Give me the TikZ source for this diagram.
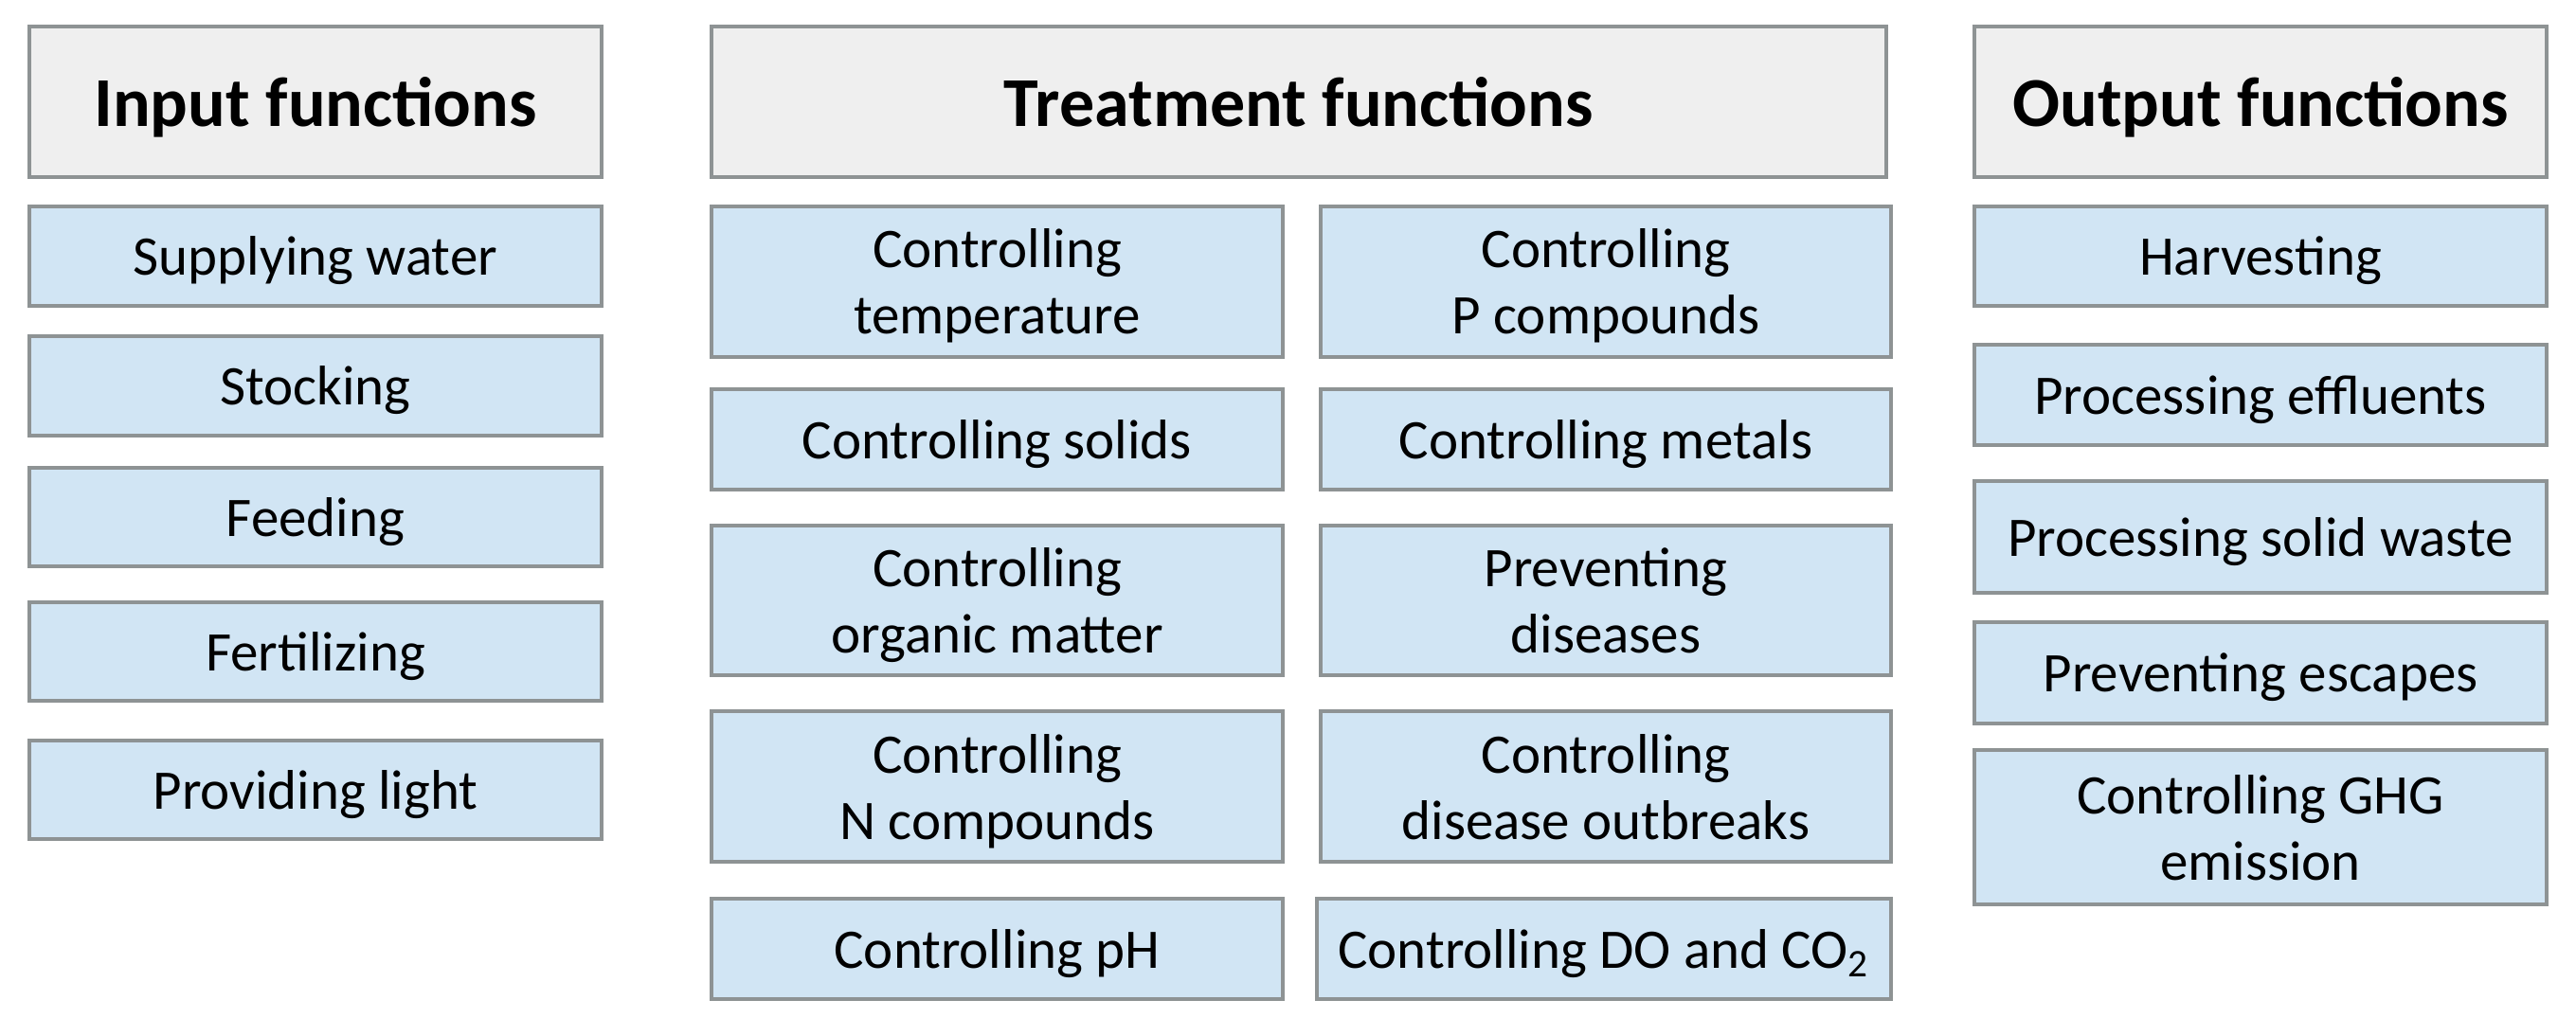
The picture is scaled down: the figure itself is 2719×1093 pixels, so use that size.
\documentclass[tikz,border=0pt]{standalone}
\usepackage{fontspec}
\setmainfont{Carlito}
\definecolor{boxblue}{HTML}{D1E5F4}
\definecolor{headgray}{HTML}{EFEFEF}
\definecolor{bordergray}{HTML}{8E9394}
\newcommand\mybox[7]{\node[#6, minimum width={(#4-#2)*0.3pt}, minimum height={(#5-#3)*0.3pt}] (#1) at ({(#2+#4)/2},{(#3+#5)/2}) {#7};}
\tikzset{
  basebox/.style={draw=bordergray, line width=1pt, inner sep=0pt, outer sep=0pt, align=center, text depth=0pt, anchor=center},
  funcbox/.style={basebox, fill=boxblue, font=\fontsize{17.7}{21}\selectfont},
  headbox/.style={basebox, fill=headgray, font=\fontsize{22.2}{26}\selectfont\bfseries},
}
\begin{document}
\begin{tikzpicture}[x=0.3pt,y=-0.3pt]
\useasboundingbox (0,0) rectangle (2719,1093);
% headers
\mybox{hin}{31}{28}{635}{187}{headbox}{Input functions}
\mybox{htr}{751}{28}{1991}{187}{headbox}{Treatment functions}
\mybox{hout}{2084}{28}{2688}{187}{headbox}{Output functions}
% input column
\mybox{in1}{31}{218}{635}{323}{funcbox}{Supplying water}
\mybox{in2}{31}{355}{635}{460}{funcbox}{Stocking}
\mybox{in3}{31}{494}{635}{598}{funcbox}{Feeding}
\mybox{in4}{31}{636}{635}{740}{funcbox}{Fertilizing}
\mybox{in5}{31}{782}{635}{886}{funcbox}{Providing light}
% treatment left
\mybox{tl1}{751}{218}{1354}{377}{funcbox}{Controlling\\temperature}
\mybox{tl2}{751}{411}{1354}{517}{funcbox}{Controlling solids}
\mybox{tl3}{751}{555}{1354}{713}{funcbox}{Controlling\\organic matter}
\mybox{tl4}{751}{751}{1354}{910}{funcbox}{Controlling\\N compounds}
\mybox{tl5}{751}{949}{1354}{1055}{funcbox}{Controlling pH}
% treatment right
\mybox{tr1}{1394}{218}{1996}{377}{funcbox}{Controlling\\P compounds}
\mybox{tr2}{1394}{411}{1996}{517}{funcbox}{Controlling metals}
\mybox{tr3}{1394}{555}{1996}{713}{funcbox}{Preventing\\diseases}
\mybox{tr4}{1394}{751}{1996}{910}{funcbox}{Controlling\\disease outbreaks}
\mybox{tr5}{1390}{949}{1996}{1055}{funcbox}{Controlling DO and CO\textsubscript{2}}
% output column
\mybox{out1}{2084}{218}{2688}{323}{funcbox}{Harvesting}
\mybox{out2}{2084}{364}{2688}{470}{funcbox}{Processing effluents}
\mybox{out3}{2084}{508}{2688}{626}{funcbox}{Processing solid waste}
\mybox{out4}{2084}{657}{2688}{764}{funcbox}{Preventing escapes}
\mybox{out5}{2084}{792}{2688}{955}{funcbox}{Controlling GHG\\emission}
\end{tikzpicture}
\end{document}
